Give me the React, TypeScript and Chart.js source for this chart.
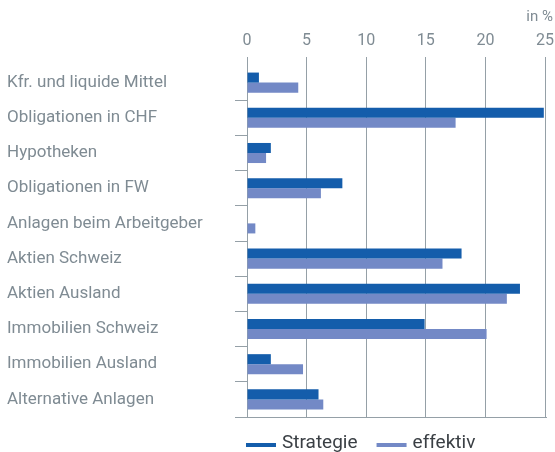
import React, { useEffect, useRef } from "react";
import { Chart, registerables } from "chart.js";

Chart.register(...registerables);

const categories = [
  "Kfr. und liquide Mittel",
  "Obligationen in CHF",
  "Hypotheken",
  "Obligationen in FW",
  "Anlagen beim Arbeitgeber",
  "Aktien Schweiz",
  "Aktien Ausland",
  "Immobilien Schweiz",
  "Immobilien Ausland",
  "Alternative Anlagen",
];
const strategie = [1.0, 24.9, 2.0, 8.0, 0, 18.0, 22.9, 14.9, 2.0, 6.0];
const effektiv = [4.3, 17.5, 1.6, 6.2, 0.7, 16.4, 21.8, 20.1, 4.7, 6.4];
const seriesNames = ["Strategie", "effektiv"];
const unitLabel = "in %";

const COL_STRAT = "#145DAB";
const COL_EFF = "#7389C6";
const GRID = "#95a0a7";
const TEXT_GRAY = "#7f8b93";
const FONT = "Roboto, 'Noto Sans', sans-serif";

const extrasPlugin = {
  id: "extras",
  afterDraw(chart: any) {
    const { ctx, chartArea } = chart;
    ctx.save();
    // bottom baseline
    ctx.strokeStyle = GRID;
    ctx.lineWidth = 1;
    ctx.beginPath();
    ctx.moveTo(chartArea.left - 12, chartArea.bottom + 0.5);
    ctx.lineTo(chartArea.right + 2, chartArea.bottom + 0.5);
    ctx.stroke();
    // unit label
    ctx.fillStyle = TEXT_GRAY;
    ctx.font = `15px ${FONT}`;
    ctx.textAlign = "right";
    ctx.textBaseline = "middle";
    ctx.fillText(unitLabel, chart.width - 2, 17);
    // legend
    ctx.font = `19px ${FONT}`;
    ctx.textAlign = "left";
    let x = chartArea.left - 1;
    const y = chartArea.bottom + 28;
    chart.data.datasets.forEach((ds: any) => {
      ctx.fillStyle = ds.backgroundColor;
      ctx.fillRect(x, y - 2, 30, 4);
      ctx.fillStyle = "#3a3f44";
      ctx.textBaseline = "alphabetic";
      ctx.fillText(ds.label, x + 36, y + 3);
      x += 36 + ctx.measureText(ds.label).width + 19;
    });
    ctx.restore();
  },
};

export default function App() {
  const ref = useRef<HTMLCanvasElement>(null);
  useEffect(() => {
    if (!ref.current) return;
    const chart = new Chart(ref.current, {
      type: "bar",
      data: {
        labels: categories,
        datasets: [
          { label: seriesNames[0], data: strategie, backgroundColor: COL_STRAT, borderWidth: 0 },
          { label: seriesNames[1], data: effektiv, backgroundColor: COL_EFF, borderWidth: 0 },
        ],
      },
      options: {
        indexAxis: "y",
        animation: false,
        responsive: true,
        maintainAspectRatio: false,
        layout: { padding: { top: 26, left: 7, right: 10, bottom: 35 } },
        datasets: { bar: { barPercentage: 1, categoryPercentage: 0.57 } },
        plugins: { legend: { display: false }, tooltip: { enabled: false }, title: { display: false } },
        scales: {
          x: {
            position: "top",
            min: 0,
            max: 25,
            z: 1,
            ticks: { stepSize: 5, color: TEXT_GRAY, font: { family: FONT, size: 16 }, padding: 6 },
            grid: { color: GRID, lineWidth: 1, tickLength: 8, drawTicks: true, tickColor: GRID },
            border: { display: false },
            afterFit: (s: any) => {
              s.height = 39;
              s.paddingLeft = 0;
              s.paddingRight = 0;
            },
          },
          y: {
            ticks: { crossAlign: "far", color: TEXT_GRAY, font: { family: FONT, size: 17 } },
            grid: {
              offset: true,
              drawOnChartArea: false,
              drawTicks: true,
              tickLength: 12,
              color: (c: any) => (c.index === 0 ? "rgba(0,0,0,0)" : GRID),
              tickColor: (c: any) => (c.index === 0 ? "rgba(0,0,0,0)" : GRID),
            },
            border: { display: false },
            afterFit: (s: any) => {
              s.width = 240;
              s.paddingTop = 0;
              s.paddingBottom = 0;
            },
          },
        },
      },
      plugins: [extrasPlugin],
    });
    return () => chart.destroy();
  }, []);
  return (
    <div style={{ position: "fixed", left: 0, top: 0, width: 555, height: 452, background: "#fff" }}>
      <canvas ref={ref} />
    </div>
  );
}
